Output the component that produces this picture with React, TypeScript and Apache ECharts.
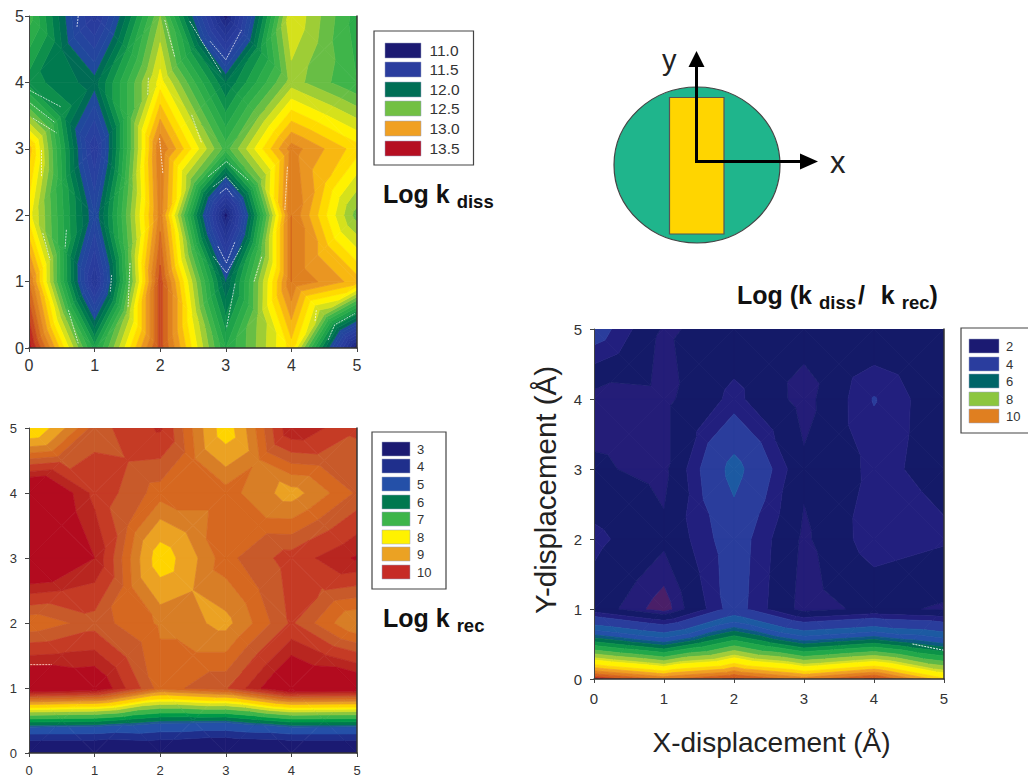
import React, { useEffect, useRef } from "react";
import * as echarts from "echarts";

const FONT = "Liberation Sans";
const axisTicks = [0, 1, 2, 3, 4, 5];

// rows run from y = 0 up to y = 5, columns from x = 0 to x = 5
const kdissValues = [
  [13.55, 12.15, 13.35, 12.2, 12.85, 11.0],
  [13.2, 11.3, 13.35, 11.8, 13.2, 12.95],
  [12.75, 11.7, 13.15, 11.05, 13.2, 12.45],
  [12.95, 11.4, 13.2, 12.35, 13.15, 12.85],
  [12.05, 11.85, 12.75, 11.9, 12.55, 12.3],
  [12.35, 11.35, 12.5, 11.05, 12.7, 12.25],
];
const krecValues = [
  [1.0, 1.0, 1.3, 0.8, 1.0, 1.0],
  [11.3, 11.1, 9.6, 10.0, 11.3, 11.2],
  [9.5, 9.9, 9.4, 9.0, 10.1, 9.1],
  [11.5, 10.7, 8.4, 9.65, 10.2, 10.75],
  [11.5, 10.3, 9.6, 9.6, 8.95, 9.8],
  [8.15, 9.9, 10.45, 8.4, 10.7, 10.1],
];
const ratioValues = [
  [11.2, 10.4, 11.0, 10.3, 11.0, 9.4],
  [2.0, 0.85, 3.4, 1.3, 1.8, 1.5],
  [2.6, 1.75, 3.5, 1.45, 2.8, 2.5],
  [1.7, 1.4, 4.5, 1.75, 2.55, 2.2],
  [1.3, 1.4, 2.6, 1.3, 3.05, 1.8],
  [3.5, 1.5, 1.9, 1.9, 1.7, 1.9],
];

const kdissLegendLabels = ["11.0", "11.5", "12.0", "12.5", "13.0", "13.5"];
const kdissLegendColors = ["#1b1a72", "#2a3d9e", "#006e55", "#72c044", "#f0a023", "#b50f22"];
const krecLegendLabels = ["3", "4", "5", "6", "7", "8", "9", "10"];
const krecLegendColors = ["#1b1a72", "#1f2f8c", "#2450a8", "#00784f", "#3db54a", "#fff200", "#eba223", "#c62b27"];
const ratioLegendLabels = ["2", "4", "6", "8", "10"];
const ratioLegendColors = ["#1b1a72", "#2a3d9e", "#006468", "#8cc63f", "#e07f20"];

// colour stops for the first map: quantised into 0.1 wide bands
const kdissStops: [number, string][] = [
  [11.0, "#1b1a72"], [11.2, "#22308f"], [11.5, "#2a3fa0"], [11.78, "#1f4a9c"], [11.85, "#006b55"],
  [11.95, "#007a4f"], [12.03, "#0a8a4c"], [12.12, "#1c9f4a"], [12.2, "#22a84a"], [12.35, "#3fb54a"], [12.5, "#7cc242"], [12.6, "#c0d82a"],
  [12.75, "#fff200"], [12.9, "#ffd000"], [13.0, "#f0a023"], [13.2, "#d9761f"], [13.4, "#c43a20"], [13.55, "#b00a20"],
];
const krecBands: [number, string][] = [
  [-99, "#1b1a72"], [3.0, "#1f2f8c"], [4.0, "#2450a8"], [5.1, "#1f5a90"], [5.4, "#00784f"], [5.9, "#009a48"],
  [6.4, "#3db54a"], [7.0, "#8cc63f"], [7.5, "#d8e021"], [7.9, "#fff200"], [8.2, "#ffd400"], [8.7, "#eba223"],
  [9.12, "#d87e26"], [9.45, "#d66820"], [9.75, "#c85a2a"], [10.05, "#c53b25"], [10.4, "#b82620"], [10.7, "#b30b1f"],
];
const ratioBands: [number, string][] = [
  [-99, "#4a1f68"], [1.15, "#241d78"], [1.6, "#141a68"], [2.4, "#221f7e"], [3.0, "#2a3d9c"], [4.1, "#1c5aa2"],
  [4.8, "#2450a8"], [5.4, "#0c5a80"], [5.8, "#00704f"], [6.3, "#0c9248"], [6.8, "#22a84a"], [7.4, "#5cb847"],
  [7.9, "#a2cc3a"], [8.4, "#d8e021"], [8.7, "#fff200"], [9.3, "#fdd20a"], [9.7, "#f0a023"], [10.1, "#e28020"],
  [10.5, "#d4601e"], [10.9, "#c0301e"], [11.1, "#a81018"],
];

// pale artefact strokes of the scan, as x, y pairs in axis units
const kdissStreaks = [
  [0.01, 3.88, 0.49, 3.63], [0, 3.7, 0.39, 3.4], [0.06, 3.46, 0.42, 3.24], [0.19, 2.98, 0.19, 2.58],
  [0.75, 5, 0.73, 4.82], [2.07, 4.94, 2.22, 4.39], [1.82, 4.07, 1.81, 3.81], [2.48, 3.51, 2.63, 3.09],
  [2.45, 4.92, 2.93, 4.14], [2.76, 4.62, 3.0, 4.34, 3.24, 4.79], [0.57, 1.78, 0.55, 1.5], [0.21, 1.73, 0.32, 1.33],
  [1.54, 1.28, 1.51, 0.62], [1.26, 1.1, 1.24, 0.85], [0.6, 0.57, 0.75, 0.07], [3.43, 1.0, 3.55, 1.38],
  [3.14, 0.97, 3.01, 0.3], [2.73, 2.58, 3.01, 2.81, 3.34, 2.53], [4.56, 0.12, 4.66, 0.35, 4.97, 0.52],
  [4.38, 0.57, 4.36, 0.4], [3.94, 2.73, 3.9, 2.08], [1.99, 3.16, 2.04, 2.63], [2.81, 1.38, 3.01, 1.13, 3.24, 1.53],
  [2.88, 1.53, 3.01, 1.28, 3.14, 1.6], [2.81, 2.43, 3.01, 2.58, 3.19, 2.38], [2.91, 2.33, 3.01, 2.41, 3.11, 2.28],
];
const krecStreaks = [[0.02, 1.36, 0.35, 1.36]];
const ratioStreaks = [[4.55, 0.5, 5, 0.41]];

function hex(c: string) {
  return [1, 3, 5].map((i) => parseInt(c.slice(i, i + 2), 16));
}
function colorAt(stops: [number, string][], v: number) {
  if (v <= stops[0][0]) return stops[0][1];
  for (let i = 1; i < stops.length; i++) {
    if (v <= stops[i][0]) {
      const t = (v - stops[i - 1][0]) / (stops[i][0] - stops[i - 1][0]);
      const a = hex(stops[i - 1][1]);
      const b = hex(stops[i][1]);
      return "rgb(" + a.map((x, k) => Math.round(x + (b[k] - x) * t)).join(",") + ")";
    }
  }
  return stops[stops.length - 1][1];
}
function quantise(stops: [number, string][], from: number, to: number, step: number) {
  const out: [number, string][] = [[-99, colorAt(stops, from)]];
  for (let v = from + step; v < to; v += step) out.push([v, colorAt(stops, v + step / 2)]);
  return out;
}
const kdissBands = quantise(kdissStops, 11.0, 13.6, 0.1);

type P = [number, number, number];
function clip(poly: P[], level: number, keepAbove: boolean): P[] {
  const out: P[] = [];
  for (let i = 0; i < poly.length; i++) {
    const a = poly[i];
    const b = poly[(i + 1) % poly.length];
    const ia = keepAbove ? a[2] >= level : a[2] < level;
    const ib = keepAbove ? b[2] >= level : b[2] < level;
    if (ia) out.push(a);
    if (ia !== ib) {
      const t = (level - a[2]) / (b[2] - a[2]);
      out.push([a[0] + (b[0] - a[0]) * t, a[1] + (b[1] - a[1]) * t, level]);
    }
  }
  return out;
}

function contourSeries(idx: number, values: number[][], bands: [number, string][]) {
  const cells: number[][] = [];
  for (let j = 0; j < values.length - 1; j++)
    for (let i = 0; i < values[0].length - 1; i++) cells.push([i, j]);
  return {
    type: "custom",
    xAxisIndex: idx,
    yAxisIndex: idx * 2,
    data: cells,
    encode: { x: 0, y: 1 },
    clip: true,
    silent: true,
    renderItem: (_p: any, api: any) => {
      const i = api.value(0);
      const j = api.value(1);
      const corner = (a: number, b: number): P => {
        const c = api.coord([a, b]);
        return [c[0], c[1], values[b][a]];
      };
      const q = [corner(i, j), corner(i + 1, j), corner(i + 1, j + 1), corner(i, j + 1)];
      const m: P = [
        (q[0][0] + q[2][0]) / 2,
        (q[0][1] + q[2][1]) / 2,
        (q[0][2] + q[1][2] + q[2][2] + q[3][2]) / 4,
      ];
      const children: any[] = [];
      for (let t = 0; t < 4; t++) {
        const tri: P[] = [q[t], q[(t + 1) % 4], m];
        bands.forEach((band, k) => {
          let poly = clip(tri, band[0], true);
          if (k + 1 < bands.length && poly.length) poly = clip(poly, bands[k + 1][0], false);
          if (poly.length > 2)
            children.push({
              type: "polygon",
              shape: { points: poly.map((p) => [p[0], p[1]]) },
              style: { fill: band[1], stroke: band[1], lineWidth: 0.7 },
            });
        });
      }
      return { type: "group", children };
    },
  };
}

function streakSeries(idx: number, streaks: number[][], color: string) {
  return {
    type: "custom",
    xAxisIndex: idx,
    yAxisIndex: idx * 2,
    data: streaks.map((s) => [s[0], s[1]]),
    encode: { x: 0, y: 1 },
    clip: true,
    silent: true,
    z: 3,
    renderItem: (p: any, api: any) => {
      const s = streaks[p.dataIndex];
      const pts: number[][] = [];
      for (let k = 0; k < s.length; k += 2) pts.push(api.coord([s[k], s[k + 1]]));
      return {
        type: "polyline",
        shape: { points: pts },
        style: { stroke: color, fill: "none", lineWidth: 1, lineDash: [2, 1] },
      };
    },
  };
}

function xAxis(idx: number, size: number, margin: number, name?: string) {
  return {
    type: "value",
    gridIndex: idx,
    min: axisTicks[0],
    max: axisTicks[axisTicks.length - 1],
    interval: 1,
    splitLine: { show: false },
    axisLine: { show: true, onZero: false, lineStyle: { color: "#333", width: 1.5 } },
    axisTick: { show: true, length: 4, lineStyle: { color: "#444" } },
    axisLabel: { fontFamily: FONT, fontSize: size, color: "#333", margin, formatter: (v: number) => String(v) },
    name,
    nameLocation: "middle",
    nameGap: 49,
    nameTextStyle: { fontFamily: FONT, fontSize: 28, color: "#222", padding: [0, 0, 0, 5] },
    z: 5,
  };
}
function yAxis(idx: number, size: number, margin: number, labelPad: number, name?: string) {
  return [
    {
      type: "value",
      gridIndex: idx,
      min: axisTicks[0],
      max: axisTicks[axisTicks.length - 1],
      interval: 1,
      splitLine: { show: false },
      axisLine: { show: true, onZero: false, lineStyle: { color: "#444", width: 1 } },
      axisTick: { show: true, length: 4, lineStyle: { color: "#444" } },
      axisLabel: {
        fontFamily: FONT,
        fontSize: size,
        color: "#333",
        margin,
        padding: [labelPad, 0, 0, 0],
        formatter: (v: number) => String(v),
      },
      name,
      nameLocation: "middle",
      nameGap: 34,
      nameRotate: 90,
      nameTextStyle: { fontFamily: FONT, fontSize: 29.5, color: "#222", padding: [0, 0, 0, 28] },
      z: 5,
    },
    {
      type: "value",
      gridIndex: idx,
      position: "right",
      min: axisTicks[0],
      max: axisTicks[axisTicks.length - 1],
      interval: 1,
      splitLine: { show: false },
      axisLine: { show: true, onZero: false, lineStyle: { color: "#333", width: 1.5 } },
      axisTick: { show: false },
      axisLabel: { show: false },
      z: 5,
    },
  ];
}

function legend(
  box: [number, number, number, number],
  swX: number,
  swW: number,
  swTops: number[],
  swH: number,
  labels: string[],
  colors: string[],
  textX: number,
  fontSize: number
) {
  const els: any[] = [
    {
      type: "rect",
      shape: { x: box[0], y: box[1], width: box[2], height: box[3] },
      style: { fill: "#fff", stroke: "#444", lineWidth: 1.2 },
    },
  ];
  labels.forEach((t, i) => {
    els.push({
      type: "rect",
      shape: { x: swX, y: swTops[i], width: swW, height: swH },
      style: { fill: colors[i], stroke: "#9aa0c0", lineWidth: 0.5 },
    });
    els.push({
      type: "text",
      x: textX,
      y: swTops[i] + swH / 2,
      style: { text: t, fontFamily: FONT, fontSize, fill: "#333", verticalAlign: "middle" },
    });
  });
  return els;
}

function subTitle(x: number, y: number, text: string) {
  return {
    type: "text",
    x,
    y,
    style: {
      text,
      fontFamily: FONT,
      fill: "#111",
      rich: {
        m: { fontFamily: FONT, fontSize: 25, fontWeight: "bold", fill: "#111", lineHeight: 30, verticalAlign: "top" },
        s: { fontFamily: FONT, fontSize: 18.5, fontWeight: "bold", fill: "#111", lineHeight: 20, verticalAlign: "bottom", padding: [22, 0, 0, 7] },
        k: { fontFamily: FONT, fontSize: 25, fontWeight: "bold", fill: "#111", lineHeight: 30, verticalAlign: "top", padding: [0, 0, 0, 2] },
      },
    },
  };
}

const schematic: any[] = [
  { type: "ellipse", shape: { cx: 697, cy: 165, rx: 83, ry: 78 }, style: { fill: "#1fb58c", stroke: "#444", lineWidth: 1.2 } },
  { type: "rect", shape: { x: 669.5, y: 97.5, width: 54.5, height: 136.5 }, style: { fill: "#ffd500", stroke: "#555", lineWidth: 1.2 } },
  { type: "polyline", shape: { points: [[696.5, 60], [696.5, 161.5], [805, 161.5]] }, style: { stroke: "#000", fill: "none", lineWidth: 3 } },
  { type: "polygon", shape: { points: [[696.5, 51], [688.5, 67], [704.5, 67]] }, style: { fill: "#000" } },
  { type: "polygon", shape: { points: [[818, 161.5], [800, 153.5], [800, 169.5]] }, style: { fill: "#000" } },
  { type: "text", x: 662, y: 45, style: { text: "y", fontFamily: FONT, fontSize: 29, fill: "#222" } },
  { type: "text", x: 830, y: 147, style: { text: "x", fontFamily: FONT, fontSize: 31, fill: "#222" } },
];

export default function App() {
  const ref = useRef<HTMLDivElement>(null);
  useEffect(() => {
    document.body.style.margin = "0";
    const chart = echarts.init(ref.current!, undefined, { renderer: "svg" });
    chart.setOption({
      animation: false,
      backgroundColor: "#fff",
      grid: [
        { left: 29, top: 16, width: 328, height: 332 },
        { left: 29, top: 428, width: 328, height: 327 },
        { left: 594, top: 329, width: 350, height: 350 },
      ],
      xAxis: [xAxis(0, 16, 9), xAxis(1, 13, 11), xAxis(2, 15, 12, "X-displacement (Å)")],
      yAxis: [...yAxis(0, 16, 5, 9), ...yAxis(1, 13, 12, 0), ...yAxis(2, 15, 12, 0, "Y-displacement (Å)")],
      series: [
        contourSeries(0, kdissValues, kdissBands),
        contourSeries(1, krecValues, krecBands),
        contourSeries(2, ratioValues, ratioBands),
        streakSeries(0, kdissStreaks, "rgba(255,255,255,0.7)"),
        streakSeries(1, krecStreaks, "rgba(255,200,190,0.9)"),
        streakSeries(2, ratioStreaks, "rgba(255,255,255,0.9)"),
      ],
      graphic: {
        elements: [
          ...legend([374, 31, 99.5, 134], 385, 36, [43, 62, 82, 101, 121, 141], 15, kdissLegendLabels, kdissLegendColors, 429.5, 15.5),
          ...legend([372, 432, 74, 157], 382, 28, [442, 459, 477, 495, 512, 530, 547, 565], 14, krecLegendLabels, krecLegendColors, 417, 13),
          ...legend([961, 328, 70, 105], 969, 30, [339, 357, 374, 392, 409], 14, ratioLegendLabels, ratioLegendColors, 1006, 13),
          subTitle(383, 181, "{m|Log k}{s|diss}"),
          subTitle(383, 605, "{m|Log k}{s|rec}"),
          subTitle(737, 282, "{m|Log (k}{s|diss}{k|/}{k|  k}{s|rec}{m|)}"),
          ...schematic,
        ],
      },
    });
    return () => chart.dispose();
  }, []);
  return <div ref={ref} style={{ position: "absolute", left: 0, top: 0, width: 1028, height: 777 }} />;
}
